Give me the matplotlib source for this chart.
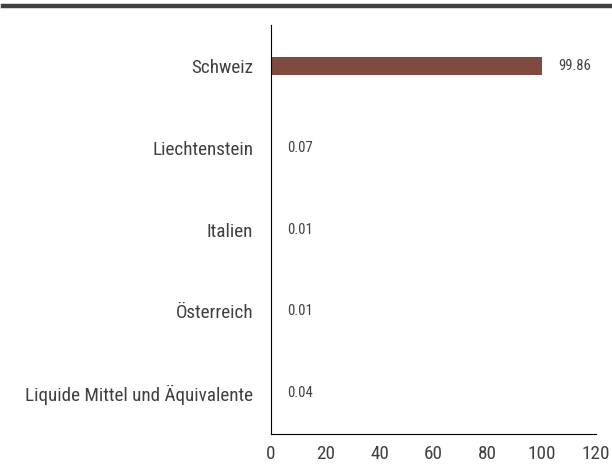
import matplotlib.pyplot as plt
from matplotlib import font_manager

# Daten
categories = ["Schweiz", "Liechtenstein", "Italien", "Österreich",
              "Liquide Mittel und Äquivalente"]
values = [99.86, 0.07, 0.01, 0.01, 0.04]
xticks = [0, 20, 40, 60, 80, 100, 120]

names = {f.name for f in font_manager.fontManager.ttflist}
wanted = ["Roboto Condensed", "Open Sans Condensed", "Liberation Sans Narrow",
          "DejaVu Sans Condensed", "Roboto"]
family = [f for f in wanted if f in names][:1] + ["DejaVu Sans"]
plt.rcParams['font.family'] = family

text_color = "#404040"
bar_color = "#7f4a40"

fig = plt.figure(figsize=(6.12, 4.67), dpi=100)
ax = fig.add_axes([0.443, 0.071, 0.531, 0.875])

ypos = list(range(len(categories)))
ax.barh(ypos, values, height=0.21, color=bar_color)
for y, v in zip(ypos, values):
    ax.text(v + 6, y, f"{v:.2f}", va="center", ha="left", fontsize=10.5, color=text_color)

ax.set_yticks(ypos)
ax.set_yticklabels(categories, fontsize=13.8, color=text_color)
ax.set_ylim(len(categories) - 0.5, -0.5)
ax.set_xlim(0, 120)
ax.set_xticks(xticks)
ax.set_xticklabels([str(t) for t in xticks], fontsize=13.8, color=text_color)
ax.tick_params(axis="y", length=0, pad=13)
ax.tick_params(axis="x", length=0, pad=8)

for s in ["top", "right"]:
    ax.spines[s].set_visible(False)
ax.spines["left"].set_color("black")
ax.spines["bottom"].set_color("black")

# Linie oben
fig.add_artist(plt.Line2D([3 / 612, 1], [1 - 6 / 467, 1 - 6 / 467], color="#404040",
                          linewidth=3.2, transform=fig.transFigure))

fig.savefig("out.png", dpi=100)
